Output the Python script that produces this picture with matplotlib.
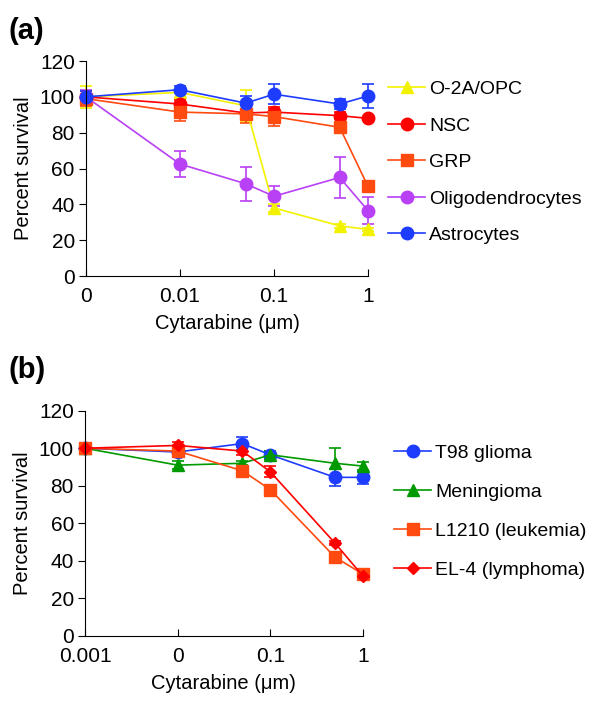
import numpy as np
import matplotlib
matplotlib.use("Agg")
import matplotlib.pyplot as plt
from matplotlib.lines import Line2D

plt.rcParams["font.family"] = ["Liberation Sans", "DejaVu Sans"]

# concentrations (0 is drawn at the 0.001 position on the log axis)
conc = [0.001, 0.01, 0.05, 0.1, 0.5, 1]

# panel (a)
a_labels = ["O-2A/OPC", "NSC", "GRP", "Oligodendrocytes", "Astrocytes"]
a_opc = [100, 102.5, 95, 38, 28, 26]
a_opc_err = [6, 3, 9, 2, 1, 1]
a_nsc = [100, 96, 91, 91.5, 89.5, 88]
a_nsc_err = [3, 2, 2, 3, 2, 1]
a_grp = [99, 91.5, 90.5, 89, 83, 50]
a_grp_err = [4, 5, 5, 5, 2, 1]
a_oligo = [100, 62.5, 51.5, 44.5, 55, 36.5]
a_oligo_err = [4, 7.5, 9.5, 5.5, 11.5, 7.5]
a_astro = [100, 104, 96.5, 101.5, 96, 100.5]
a_astro_err = [3, 2, 4, 5.5, 3, 6.5]

# panel (b)
b_labels = ["T98 glioma", "Meningioma", "L1210 (leukemia)", "EL-4 (lymphoma)"]
b_t98 = [100, 98, 102.5, 96.5, 84.5, 84.5]
b_t98_err = [1, 2, 3.5, 2, 4.5, 3.5]
b_men = [100, 91, 92, 96.5, 92, 90.5]
b_men_err = [1, 2, 1, 2, 8, 2]
b_l1210 = [100, 98.5, 88, 78, 42, 33]
b_l1210_err = [1, 2, 1, 1, 1, 1]
b_el4 = [100, 101.5, 98.5, 87.5, 49.5, 32]
b_el4_err = [1, 2, 2, 3, 1, 1]

a_ticklabels = ["0", "0.01", "0.1", "1"]
b_ticklabels = ["0.001", "0", "0.1", "1"]

x = np.log10(conc)

fig = plt.figure(figsize=(6, 7.13), dpi=100)
ax1 = fig.add_axes([0.1433, 0.6129, 0.47, 0.3015])
ax2 = fig.add_axes([0.1417, 0.108, 0.463, 0.316])


def series(ax, y, err, color, marker, ms, label):
    ax.errorbar(x, y, yerr=err, color=color, marker=marker, markersize=ms,
                linewidth=1.2, elinewidth=1.2, capsize=4, capthick=1.2,
                clip_on=False)
    # legend handle without the error bar
    return Line2D([], [], color=color, marker=marker, markersize=ms,
                  linewidth=1.2, label=label)


h1 = [
    series(ax1, a_opc, a_opc_err, "#f2f200", "^", 9, a_labels[0]),
    series(ax1, a_nsc, a_nsc_err, "#ff0000", "o", 9, a_labels[1]),
    series(ax1, a_grp, a_grp_err, "#ff4a10", "s", 9, a_labels[2]),
    series(ax1, a_oligo, a_oligo_err, "#b840f5", "o", 9, a_labels[3]),
    series(ax1, a_astro, a_astro_err, "#1e3cff", "o", 9, a_labels[4]),
]

h2 = [
    series(ax2, b_t98, b_t98_err, "#1e3cff", "o", 9, b_labels[0]),
    series(ax2, b_men, b_men_err, "#009a00", "^", 9, b_labels[1]),
    series(ax2, b_l1210, b_l1210_err, "#ff4a10", "s", 9, b_labels[2]),
    series(ax2, b_el4, b_el4_err, "#ff0000", "D", 6.5, b_labels[3]),
]

for ax, labs, handles, left, top, spacing in [(ax1, a_ticklabels, h1, 1.01, 0.99, 0.97),
                                              (ax2, b_ticklabels, h2, 1.05, 0.93, 1.1)]:
    ax.set_xlim(-3, 0)
    ax.set_ylim(0, 120)
    ax.set_xticks([-3, -2, -1, 0])
    ax.set_xticklabels(labs)
    ax.set_yticks(range(0, 121, 20))
    ax.spines["top"].set_visible(False)
    ax.spines["right"].set_visible(False)
    ax.tick_params(axis="x", direction="in", length=5, labelsize=15, pad=8)
    ax.tick_params(axis="y", direction="out", length=5, labelsize=15, pad=3)
    ax.set_ylabel("Percent survival", fontsize=14.5, labelpad=5)
    ax.set_xlabel("Cytarabine (\u03bcm)", fontsize=14.5, labelpad=6)
    ax.legend(handles=handles, loc="upper left", bbox_to_anchor=(left, top),
              frameon=False, fontsize=14, labelspacing=spacing,
              handlelength=1.9, handletextpad=0.2, numpoints=1)

fig.text(0.015, 0.945, "(a)", fontsize=21, fontweight="bold")
fig.text(0.015, 0.47, "(b)", fontsize=21, fontweight="bold")

fig.savefig("out.png", dpi=100)
